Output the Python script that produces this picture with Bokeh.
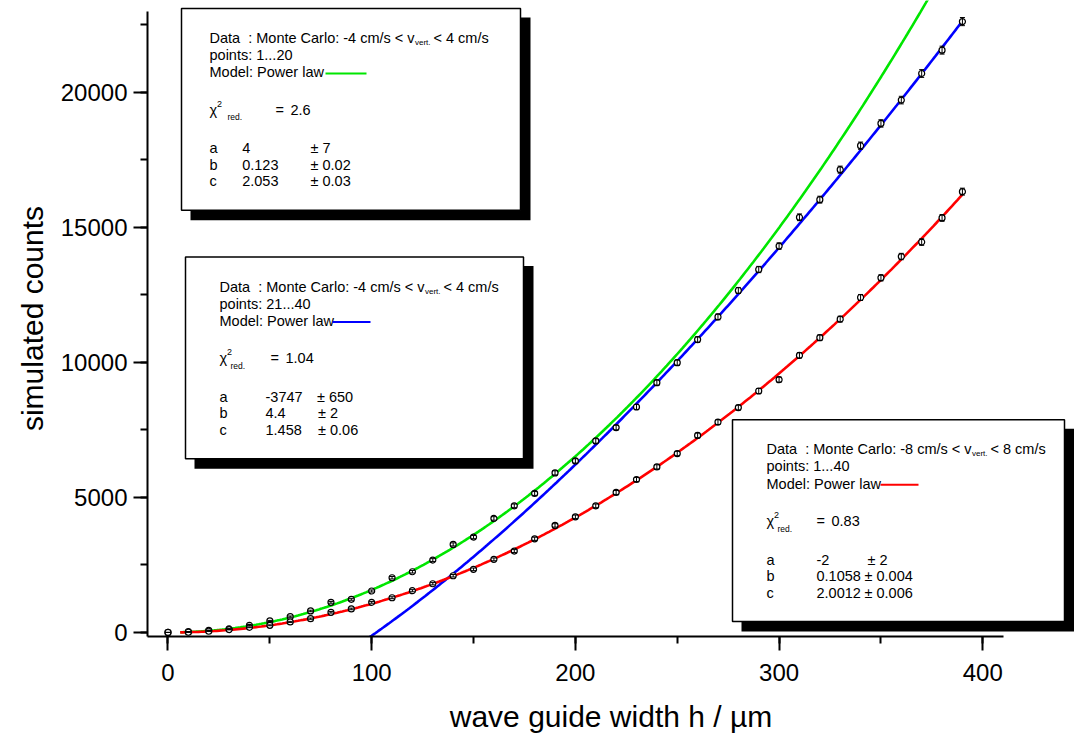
import numpy as np
from bokeh.plotting import figure
from bokeh.models import (Range1d, SingleIntervalTicker, ColumnDataSource, Whisker,
                          TeeHead, Label, BoxAnnotation)
from bokeh.embed import file_html
from bokeh.resources import INLINE

# ---------------- data ----------------
width_um = [0, 10, 20, 30, 40, 50, 60, 70, 80, 90, 100, 110, 120, 130, 140, 150, 160, 170,
            180, 190, 200, 210, 220, 230, 240, 250, 260, 270, 280, 290, 300, 310, 320, 330,
            340, 350, 360, 370, 380, 390]
counts_v4 = [0, 30, 80, 130, 265, 425, 585, 795, 1115, 1227, 1534, 2025, 2247, 2680, 3259,
             3529, 4220, 4686, 5144, 5906, 6349, 7088, 7583, 8345, 9246, 9985, 10840, 11680,
             12657, 13433, 14300, 15366, 16020, 17129, 18016, 18840, 19704, 20688, 21553, 22610]
counts_v8 = [0, 7, 45, 105, 190, 265, 390, 510, 745, 870, 1115, 1285, 1545, 1803, 2099, 2336,
             2705, 3012, 3466, 3962, 4279, 4686, 5181, 5661, 6127, 6622, 7294, 7785, 8322, 8936,
             9357, 10255, 10909, 11597, 12398, 13126, 13914, 14449, 15344, 16316]

# fit boxes (Power law  y = a + b * h^c)
v_lo = ["-4", "-4", "-8"]
v_hi = ["4", "4", "8"]
points_txt = ["1...20", "21...40", "1...40"]
chi2_txt = ["2.6", "1.04", "0.83"]
param_a = ["4", "-3747", "-2"]
param_b = ["0.123", "4.4", "0.1058"]
param_c = ["2.053", "1.458", "2.0012"]
err_a = ["± 7", "± 650", "± 2"]
err_b = ["± 0.02", "± 2", "± 0.004"]
err_c = ["± 0.03", "± 0.06", "± 0.006"]
fit_colors = ["#00e600", "#0000ff", "#ff0000"]
fit_from = [6, 98, 6]
fit_to = [390, 390, 390]

# ---------------- figure ----------------
FL, FW, FH = 147, 927, 637
SX = 2.037
SY = 0.02706
X0 = -10.06
X1 = X0 + FW / SX
Y0 = -150
Y1 = Y0 + FH / SY

def dx(px):
    return X0 + (px - FL) / SX

def dy(py):
    return Y1 - py / SY

FONT = "Liberation Sans"

p = figure(width=1074, height=735, x_range=Range1d(X0, X1), y_range=Range1d(Y0, Y1),
           output_backend="svg", toolbar_location=None,
           min_border_left=FL, min_border_right=0, min_border_top=0, min_border_bottom=735 - FH)
p.outline_line_color = None
p.xgrid.visible = False
p.ygrid.visible = False
p.background_fill_color = "white"

p.xaxis.ticker = SingleIntervalTicker(interval=100, num_minor_ticks=2)
p.yaxis.ticker = SingleIntervalTicker(interval=5000, num_minor_ticks=2)
p.xaxis.bounds = (-10, 410)
p.yaxis.bounds = (-150, 23000)
for ax in (p.xaxis[0], p.yaxis[0]):
    ax.axis_line_width = 2
    ax.axis_line_color = "black"
    ax.major_tick_line_width = 2
    ax.minor_tick_line_width = 2
    ax.major_tick_in = 0
    ax.major_tick_out = 14
    ax.minor_tick_in = 0
    ax.minor_tick_out = 7
    ax.major_label_text_font = FONT
    ax.major_label_text_font_size = "24px"
    ax.major_label_text_color = "black"
    ax.axis_label_text_font = FONT
    ax.axis_label_text_font_size = "30px"
    ax.axis_label_text_font_style = "normal"
    ax.axis_label_text_color = "black"
p.xaxis.axis_label = "wave guide width h / µm"
p.yaxis.axis_label = "simulated counts"
p.xaxis.major_label_standoff = 13
p.yaxis.major_label_standoff = 6
p.xaxis.axis_label_standoff = 16
p.yaxis.axis_label_standoff = 9

# fit curves
for i in range(3):
    a, b, c = float(param_a[i]), float(param_b[i]), float(param_c[i])
    hx = np.linspace(fit_from[i], fit_to[i], 300)
    p.line(hx, a + b * hx ** c, line_color=fit_colors[i], line_width=2.6)

# data points with error bars
for counts in (counts_v4, counts_v8):
    cnt = np.array(counts, dtype=float)
    err = np.sqrt(cnt)
    src = ColumnDataSource(dict(x=width_um, y=cnt, lo=cnt - err, hi=cnt + err))
    w = Whisker(source=src, base="x", lower="lo", upper="hi", line_color="black", line_width=1,
                lower_head=TeeHead(size=5, line_color="black", line_width=1),
                upper_head=TeeHead(size=5, line_color="black", line_width=1), level="glyph")
    p.add_layout(w)
    p.scatter("x", "y", source=src, marker="circle", size=6, line_color="black",
              line_width=1.2, fill_color="white")

# ---------------- fit result boxes ----------------
boxes = [dict(l=181, t=8, r=520, b=210, tx=209),
         dict(l=185, t=257, r=523, b=459, tx=219),
         dict(l=732, t=420, r=1064, b=622, tx=766)]
val_dx = [32.7, 46, 50]
pm_dx = [(101, 101, 101), (97.5, 98.5, 98.5), (101, 98, 98)]
red_dx = [18, 11, 11]
eq_dx = [66, 51, 50]
sample_dx = [(116, 157), (113, 151), (114, 152)]
rows = [29.5, 46.5, 64, 101.5, 140, 156.5, 173]

def txt(px, py, s, size="14.5px"):
    p.add_layout(Label(x=dx(px), y=dy(py), text=s, text_font=FONT, text_font_size=size,
                       text_color="black", text_baseline="middle", text_align="left"))

for i, bx in enumerate(boxes):
    p.add_layout(BoxAnnotation(left=dx(bx["l"] + 9), right=dx(bx["r"] + 10),
                               top=dy(bx["t"] + 9), bottom=dy(bx["b"] + 10),
                               fill_color="black", fill_alpha=1, line_color=None))
    p.add_layout(BoxAnnotation(left=dx(bx["l"]), right=dx(bx["r"]),
                               top=dy(bx["t"]), bottom=dy(bx["b"]),
                               fill_color="white", fill_alpha=1, line_color="black",
                               line_width=1.5, line_alpha=1))
    tx, t = bx["tx"], bx["t"]
    y1 = t + rows[0]
    txt(tx, y1, "Data")
    txt(tx + 38.7, y1, ": Monte Carlo: " + v_lo[i] + " cm/s < v")
    txt(tx + 205.5, y1 + 4.5, "vert.", "8px")
    txt(tx + 224, y1, "< " + v_hi[i] + " cm/s")
    txt(tx, t + rows[1], "points: " + points_txt[i])
    txt(tx, t + rows[2], "Model: Power law")
    ly = t + rows[2] + 1
    p.add_layout(BoxAnnotation(left=dx(tx + sample_dx[i][0]), right=dx(tx + sample_dx[i][1]),
                               top=dy(ly - 1), bottom=dy(ly + 1),
                               fill_color=fit_colors[i], fill_alpha=1, line_color=None))
    yc = t + rows[3]
    txt(tx, yc, "χ")
    txt(tx + 7.5, yc - 6, "2", "9px")
    txt(tx + red_dx[i], yc + 7.5, "red.", "8.5px")
    txt(tx + eq_dx[i], yc, "=")
    txt(tx + eq_dx[i] + 15, yc, chi2_txt[i])
    for k, (nm, val, er) in enumerate([("a", param_a[i], err_a[i]),
                                       ("b", param_b[i], err_b[i]),
                                       ("c", param_c[i], err_c[i])]):
        yr = t + rows[4 + k]
        txt(tx, yr, nm)
        txt(tx + val_dx[i], yr, val)
        txt(tx + pm_dx[i][k], yr, er)

open("out.html", "w").write(file_html(p, INLINE))
